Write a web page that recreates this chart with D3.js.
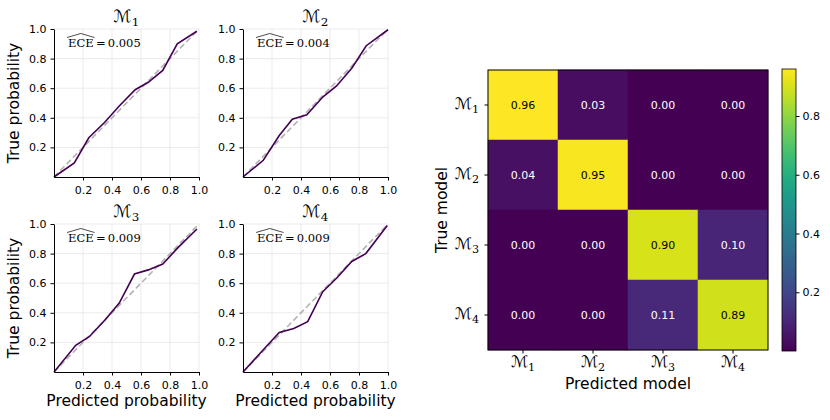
<!DOCTYPE html>
<html>
<head>
<meta charset="utf-8">
<script src="https://cdn.jsdelivr.net/npm/d3@7"></script>
<style>
  body { margin: 0; background: #fff; }
  text { font-family: "DejaVu Sans", sans-serif; fill: #000; }
</style>
</head>
<body>
<div id="chart"></div>
<script>
// Data
var modelNames = ["1", "2", "3", "4"];
var eceValues  = ["0.005", "0.004", "0.009", "0.009"];

var m1Pred = [0, 0.14, 0.24, 0.35, 0.45, 0.56, 0.65, 0.75, 0.85, 0.985];
var m1True = [0, 0.095, 0.265, 0.37, 0.48, 0.59, 0.64, 0.72, 0.90, 0.985];
var m2Pred = [0, 0.14, 0.25, 0.34, 0.44, 0.55, 0.645, 0.75, 0.85, 1.0];
var m2True = [0, 0.113, 0.28, 0.39, 0.42, 0.54, 0.615, 0.735, 0.887, 0.995];
var m3Pred = [0, 0.15, 0.245, 0.35, 0.45, 0.555, 0.65, 0.75, 0.855, 0.986];
var m3True = [0, 0.18, 0.24, 0.35, 0.466, 0.662, 0.69, 0.73, 0.84, 0.966];
var m4Pred = [0, 0.14, 0.25, 0.35, 0.446, 0.55, 0.645, 0.75, 0.847, 0.995];
var m4True = [0, 0.15, 0.267, 0.294, 0.34, 0.543, 0.633, 0.747, 0.80, 0.99];

var probTicks = [0.2, 0.4, 0.6, 0.8, 1.0];
var cbarTicks = [0.2, 0.4, 0.6, 0.8];

// rows = true model, cols = predicted model
var confRow1 = [0.96, 0.03, 0.00, 0.00];
var confRow2 = [0.04, 0.95, 0.00, 0.00];
var confRow3 = [0.00, 0.00, 0.90, 0.10];
var confRow4 = [0.00, 0.00, 0.11, 0.89];

var calib = [
  { pred: m1Pred, truth: m1True },
  { pred: m2Pred, truth: m2True },
  { pred: m3Pred, truth: m3True },
  { pred: m4Pred, truth: m4True }
];
var confMatrix = [confRow1, confRow2, confRow3, confRow4];

var svgWidth = 830, svgHeight = 420;
var svg = d3.select("#chart").append("svg")
    .attr("width", svgWidth)
    .attr("height", svgHeight);

// writes "M" with subscript into a text element
function modelLabel(sel, name, size) {
  sel.append("tspan")
    .style("font-family", "'DejaVu Sans', sans-serif")
    .style("font-size", size + "px")
    .text("\u2133");
  sel.append("tspan")
    .style("font-family", "'DejaVu Serif', serif")
    .style("font-size", (size * 0.7) + "px")
    .attr("dy", size * 0.22)
    .text(name);
}

// ---- calibration panels ----
var panelW = 145, panelH = 148;
var panelPos = [
  { x: 54,  y: 29 },
  { x: 243, y: 29 },
  { x: 54,  y: 224 },
  { x: 243, y: 224 }
];

var px = d3.scaleLinear().domain([0, 1]).range([0, panelW]);
var py = d3.scaleLinear().domain([0, 1]).range([panelH, 0]);

calib.forEach(function(c, i) {
  var g = svg.append("g")
      .attr("transform", "translate(" + panelPos[i].x + "," + panelPos[i].y + ")");

  // grid
  g.append("g").selectAll("line.vg").data(probTicks).enter().append("line")
      .attr("x1", d => px(d)).attr("x2", d => px(d))
      .attr("y1", 0).attr("y2", panelH)
      .attr("stroke", "#e6e6e6").attr("stroke-width", 0.8);
  g.append("g").selectAll("line.hg").data(probTicks).enter().append("line")
      .attr("y1", d => py(d)).attr("y2", d => py(d))
      .attr("x1", 0).attr("x2", panelW)
      .attr("stroke", "#e6e6e6").attr("stroke-width", 0.8);

  // diagonal
  g.append("path")
      .attr("d", d3.line()([[px(0), py(0)], [px(1), py(1)]]))
      .attr("stroke", "#b3b3b3")
      .attr("stroke-width", 1.6)
      .attr("stroke-dasharray", "6,3")
      .attr("fill", "none");

  // calibration curve
  var pts = c.pred.map((p, k) => [p, c.truth[k]]);
  g.append("path")
      .datum(pts)
      .attr("d", d3.line().x(d => px(d[0])).y(d => py(d[1])))
      .attr("stroke", "#440154")
      .attr("stroke-width", 1.6)
      .attr("fill", "none");

  // axes
  var xAxis = g.append("g")
      .attr("transform", "translate(0," + panelH + ")")
      .call(d3.axisBottom(px).tickValues(probTicks).tickFormat(d3.format(".1f")).tickSize(3.5).tickSizeOuter(0));
  var yAxis = g.append("g")
      .call(d3.axisLeft(py).tickValues(probTicks).tickFormat(d3.format(".1f")).tickSize(3.5).tickSizeOuter(0));
  [xAxis, yAxis].forEach(function(a) {
    a.selectAll("text").style("font-size", "11px").style("font-family", "'DejaVu Sans', sans-serif");
    a.select(".domain").attr("stroke-width", 1);
  });
  xAxis.selectAll("text").attr("dy", "0.95em");
  yAxis.selectAll("text").attr("x", -7.5);

  // title
  var t = g.append("text")
      .attr("x", panelW / 2)
      .attr("y", -7)
      .attr("text-anchor", "middle");
  modelLabel(t, modelNames[i], 17);

  // ECE label with a wide hat
  var ece = g.append("text")
      .attr("x", 14)
      .attr("y", 18)
      .style("font-family", "'DejaVu Serif', serif")
      .style("font-size", "11.5px");
  var eceWord = ece.append("tspan").text("ECE");
  ece.append("tspan").text("\u2009=\u2009" + eceValues[i]);
  var ew = eceWord.node().getComputedTextLength();
  g.append("path")
      .attr("d", d3.line()([[13, 8.5], [14 + ew / 2, 4.5], [15 + ew, 8.5]]))
      .attr("stroke", "#000").attr("stroke-width", 0.7).attr("fill", "none");

  // axis titles
  if (i % 2 === 0) {
    g.append("text")
        .attr("transform", "translate(-35," + (panelH / 2) + ") rotate(-90)")
        .attr("text-anchor", "middle")
        .style("font-size", "15.5px")
        .text("True probability");
  }
  if (i >= 2) {
    g.append("text")
        .attr("x", panelW / 2)
        .attr("y", panelH + 34)
        .attr("text-anchor", "middle")
        .style("font-size", "15.5px")
        .text("Predicted probability");
  }
});

// ---- confusion matrix ----
var hmX = 488, hmY = 70, hmSize = 280;
var hm = svg.append("g").attr("transform", "translate(" + hmX + "," + hmY + ")");

var band = d3.scaleBand().domain(modelNames).range([0, hmSize]);
var allVals = confMatrix.flat();
var color = d3.scaleSequential(d3.interpolateViridis)
    .domain([d3.min(allVals), d3.max(allVals)]);

var cells = [];
confMatrix.forEach(function(row, r) {
  row.forEach(function(v, col) {
    cells.push({ r: modelNames[r], c: modelNames[col], v: v });
  });
});

hm.selectAll("rect.cell").data(cells).enter().append("rect")
    .attr("class", "cell")
    .attr("x", d => band(d.c))
    .attr("y", d => band(d.r))
    .attr("width", band.bandwidth())
    .attr("height", band.bandwidth())
    .attr("fill", d => color(d.v))
    .attr("stroke", d => color(d.v))
    .attr("stroke-width", 0.5);

hm.selectAll("text.val").data(cells).enter().append("text")
    .attr("x", d => band(d.c) + band.bandwidth() / 2)
    .attr("y", d => band(d.r) + band.bandwidth() / 2)
    .attr("dy", "0.35em")
    .attr("text-anchor", "middle")
    .style("font-size", "11px")
    .style("fill", d => d.v > 0.5 ? "#000" : "#fff")
    .text(d => d3.format(".2f")(d.v));

hm.append("rect")
    .attr("width", hmSize).attr("height", hmSize)
    .attr("fill", "none").attr("stroke", "#000").attr("stroke-width", 1);

// heatmap ticks
var yTicks = hm.append("g").call(d3.axisLeft(band).tickSize(3.5).tickFormat(""));
var xTicks = hm.append("g").attr("transform", "translate(0," + hmSize + ")")
    .call(d3.axisBottom(band).tickSize(3.5).tickFormat(""));
yTicks.select(".domain").remove();
xTicks.select(".domain").remove();

modelNames.forEach(function(m) {
  var ty = hm.append("text")
      .attr("x", -9)
      .attr("y", band(m) + band.bandwidth() / 2 + 4)
      .attr("text-anchor", "end");
  modelLabel(ty, m, 16);
  var tx = hm.append("text")
      .attr("x", band(m) + band.bandwidth() / 2)
      .attr("y", hmSize + 17)
      .attr("text-anchor", "middle");
  modelLabel(tx, m, 16);
});

hm.append("text")
    .attr("transform", "translate(-41," + (hmSize / 2) + ") rotate(-90)")
    .attr("text-anchor", "middle")
    .style("font-size", "15.5px")
    .text("True model");
hm.append("text")
    .attr("x", hmSize / 2)
    .attr("y", hmSize + 39)
    .attr("text-anchor", "middle")
    .style("font-size", "15.5px")
    .text("Predicted model");

// ---- colorbar ----
var cbX = 782, cbY = 69, cbW = 14, cbH = 282;
var cbScale = d3.scaleLinear().domain(color.domain()).range([cbH, 0]);
var grad = svg.append("defs").append("linearGradient")
    .attr("id", "cbgrad")
    .attr("x1", "0").attr("y1", "1").attr("x2", "0").attr("y2", "0");
d3.range(0, 1.0001, 0.05).forEach(function(t) {
  grad.append("stop")
      .attr("offset", t)
      .attr("stop-color", d3.interpolateViridis(t));
});
var cb = svg.append("g").attr("transform", "translate(" + cbX + "," + cbY + ")");
cb.append("rect")
    .attr("width", cbW).attr("height", cbH)
    .attr("fill", "url(#cbgrad)")
    .attr("stroke", "#000").attr("stroke-width", 0.8);
var cbAxis = cb.append("g")
    .attr("transform", "translate(" + cbW + ",0)")
    .call(d3.axisRight(cbScale).tickValues(cbarTicks).tickFormat(d3.format(".1f")).tickSize(3.5));
cbAxis.select(".domain").remove();
cbAxis.selectAll("text").style("font-size", "11px");
</script>
</body>
</html>
